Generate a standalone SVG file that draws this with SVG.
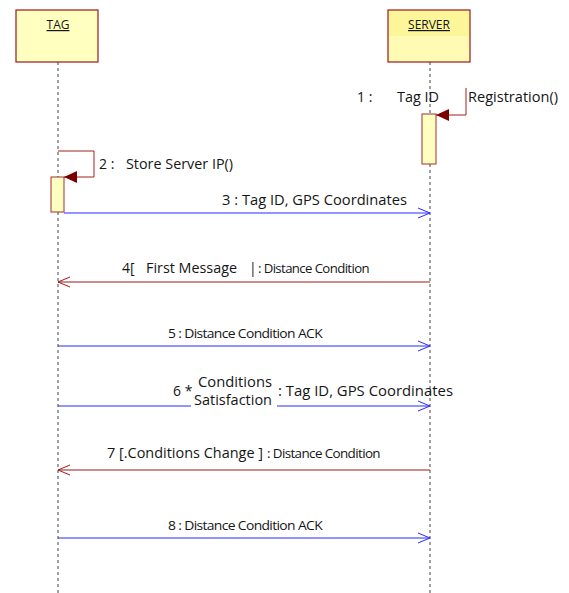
<svg xmlns="http://www.w3.org/2000/svg" width="569" height="593" viewBox="0 0 569 593">
  <defs>
    <linearGradient id="srvFill" x1="0" y1="0" x2="0" y2="1">
      <stop offset="0" stop-color="#fdf59a"/>
      <stop offset="0.5" stop-color="#fdf59a"/>
      <stop offset="0.5" stop-color="#fffbb4"/>
      <stop offset="1" stop-color="#fffbb4"/>
    </linearGradient>
    <marker id="openBlue" markerWidth="14" markerHeight="12" refX="13" refY="6" orient="auto" markerUnits="userSpaceOnUse">
      <path d="M1,1 L13,6 L1,11" fill="none" stroke="#2a2aff" stroke-width="1"/>
    </marker>
    <marker id="openRed" markerWidth="14" markerHeight="12" refX="13" refY="6" orient="auto" markerUnits="userSpaceOnUse">
      <path d="M1,1 L13,6 L1,11" fill="none" stroke="#a01818" stroke-width="1"/>
    </marker>
    <marker id="solidRed" markerWidth="14" markerHeight="12" refX="13" refY="6" orient="auto" markerUnits="userSpaceOnUse">
      <path d="M0,0 L13,6 L0,12 Z" fill="#7a0000"/>
    </marker>
  </defs>
  <style>
    text { font-family: "Open Sans", "Noto Sans", "Liberation Sans", sans-serif; fill: #151515; }
    .lbl { font-size: 14px; }
    .cnd { font-size: 13px; letter-spacing: -0.6px; }
    .head { font-size: 12px; text-decoration: underline; }
    .life { stroke: #444; stroke-width: 1; stroke-dasharray: 3 3; fill: none; }
    .box { stroke: #9a1a1a; stroke-width: 1.2; }
    .act { fill: #ffffc0; stroke: #a03030; stroke-width: 1; }
    .blue { stroke: #2a2aff; stroke-width: 1; fill: none; marker-end: url(#openBlue); }
    .red { stroke: #a01818; stroke-width: 1; fill: none; marker-end: url(#openRed); }
    .self { stroke: #a02020; stroke-width: 1; fill: none; marker-end: url(#solidRed); }
  </style>

  <!-- lifelines -->
  <g id="lifelines">
    <line class="life" x1="58" y1="62" x2="58" y2="593"/>
    <line class="life" x1="430" y1="62" x2="430" y2="593"/>
  </g>

  <g id="tag">
    <rect class="box" x="16" y="10" width="82" height="52" fill="#ffffc0"/>
    <text class="head" x="58" y="29" text-anchor="middle">TAG</text>
  </g>

  <g id="server">
    <rect class="box" x="388" y="10" width="82" height="52" fill="url(#srvFill)"/>
    <text class="head" x="429" y="29" text-anchor="middle">SERVER</text>
  </g>

  <g id="server-activation">
    <rect class="act" x="422" y="114" width="14" height="50"/>
  </g>
  <g id="tag-activation">
    <rect class="act" x="51" y="177" width="13" height="35"/>
  </g>

  <g id="connectors">
    <!-- 1 self message on SERVER -->
    <path class="self" d="M466,88 L466,115 L436,115"/>
    <!-- 2 self message on TAG -->
    <path class="self" d="M58,151 L94,151 L94,177 L64,177"/>
    <!-- 3 -->
    <line class="blue" x1="64" y1="213" x2="430" y2="213"/>
    <!-- 4 -->
    <line class="red" x1="430" y1="282" x2="58" y2="282"/>
    <!-- 5 -->
    <line class="blue" x1="58" y1="346" x2="430" y2="346"/>
    <!-- 6 (broken around the guard text) -->
    <line stroke="#2a2aff" stroke-width="1" x1="58" y1="406" x2="191" y2="406"/>
    <line class="blue" x1="277" y1="406" x2="430" y2="406"/>
    <!-- 7 -->
    <line class="red" x1="430" y1="470" x2="58" y2="470"/>
    <!-- 8 -->
    <line class="blue" x1="58" y1="538" x2="430" y2="538"/>
  </g>

  <g id="labels">
    <text class="lbl" x="357" y="102">1 :</text>
    <text class="lbl" x="397" y="102" textLength="42" lengthAdjust="spacingAndGlyphs">Tag ID</text>
    <text class="lbl" x="468" y="102" textLength="90" lengthAdjust="spacingAndGlyphs">Registration()</text>

    <text class="lbl" x="99" y="169">2 :</text>
    <text class="lbl" x="126" y="169" textLength="107" lengthAdjust="spacingAndGlyphs">Store Server IP()</text>

    <text class="lbl" x="222" y="205" textLength="185" lengthAdjust="spacingAndGlyphs">3 : Tag ID, GPS Coordinates</text>

    <text class="lbl" x="122" y="273">4[</text>
    <text class="lbl" x="146" y="273" textLength="91" lengthAdjust="spacingAndGlyphs">First Message</text>
    <text class="lbl" x="249" y="273">|</text>
    <text class="cnd" x="258" y="273" textLength="111" lengthAdjust="spacingAndGlyphs">: Distance Condition</text>

    <text class="cnd" x="168" y="338" textLength="154" lengthAdjust="spacingAndGlyphs">5 : Distance Condition ACK</text>

    <text class="lbl" x="173" y="396">6 *</text>
    <text class="lbl" x="198" y="387" textLength="74" lengthAdjust="spacingAndGlyphs">Conditions</text>
    <text class="lbl" x="194" y="405" textLength="78" lengthAdjust="spacingAndGlyphs">Satisfaction</text>
    <text class="lbl" x="278" y="396" textLength="175" lengthAdjust="spacingAndGlyphs">: Tag ID, GPS Coordinates</text>

    <text class="lbl" x="107" y="458" textLength="156" lengthAdjust="spacingAndGlyphs">7 [.Conditions Change ]</text>
    <text class="cnd" x="267" y="458" textLength="113" lengthAdjust="spacingAndGlyphs">: Distance Condition</text>

    <text class="cnd" x="168" y="530" textLength="154" lengthAdjust="spacingAndGlyphs">8 : Distance Condition ACK</text>
  </g>
</svg>
